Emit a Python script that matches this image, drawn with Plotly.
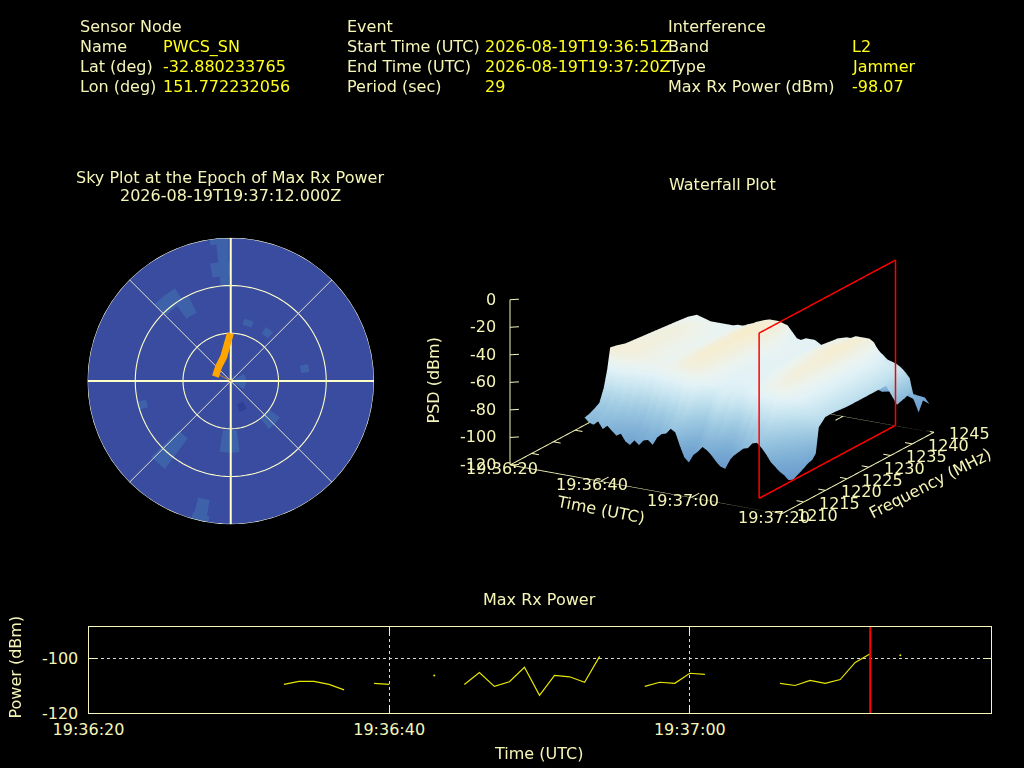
import pandas as pd
import plotly.graph_objects as go

PALE = '#f5f5b8'
YELLOW = '#ffff1a'
FONT = 'DejaVu Sans'

# Header text
header_labels = [
    (80, 27, 'Sensor Node'), (80, 47, 'Name'), (80, 67, 'Lat (deg)'), (80, 87, 'Lon (deg)'),
    (347, 27, 'Event'), (347, 47, 'Start Time (UTC)'), (347, 67, 'End Time (UTC)'), (347, 87, 'Period (sec)'),
    (668, 27, 'Interference'), (668, 47, 'Band'), (668, 67, 'Type'), (668, 87, 'Max Rx Power (dBm)'),
]
header_values = [
    (163, 47, 'PWCS_SN'), (163, 67, '-32.880233765'), (163, 87, '151.772232056'),
    (485, 47, '2026-08-19T19:36:51Z'), (485, 67, '2026-08-19T19:37:20Z'), (485, 87, '29'),
    (852, 47, 'L2'), (852, 67, 'Jammer'), (852, 87, '-98.07'),
]

# Sky plot patches, zenith angle in deg
patch_theta = [-3.5, -5, -6, -38, -31, 16.6, 37, 80.5, 92, 134, 181, 221.6, 255, 192.8, 192.5]
patch_base = [60, 66, 86, 58, 48, 36, 35.5, 44.5, 3, 30.5, 31, 45, 54.5, 76, 86]
patch_height = [30, 9, 4, 10, 12, 4, 5, 5.2, 6.5, 8, 14, 24, 6, 14, 4]
patch_width = [5, 10, 5, 14, 9, 9, 8, 6, 60, 15, 16, 9.5, 5, 5.5, 7]
dark_theta = [157]
dark_base = [15]
dark_height = [5]
dark_width = [15]
track_theta = [-0.4, -5.8, -16, -40, -74]
track_zen = [30, 22.8, 15.9, 11.8, 10]
link_theta = [-61, -61]
link_zen = [8.6, 0]

# Waterfall, seconds after 19:36:20
wf_time = list(range(13, 60))
wf_freq = [1213.6, 1214.8, 1216, 1217, 1218, 1218.8, 1219.5, 1221, 1223, 1226,
           1229, 1232, 1235, 1237.5, 1239.5, 1240.5, 1241.5, 1242.5, 1243.5, 1245]
wf_psd = [
    [-84, -87, -88, -85, -90, -87, -90, -93, -91, -96, -98, -94, -97, -93, -92, -95, -89, -86, -85, -81, -83, -92, -100, -103, -97, -94, -90, -92, -95, -99, -102, -103, -96, -92, -89, -86, -85, -81, -80, -83, -87, -92, -95, -98, -100, -103, -102],
    [-83, -85, -84, -83, -86, -85, -88, -89, -90, -92, -94, -91, -92, -90, -87, -91, -85, -84, -80, -79, -80, -87, -95, -97, -93, -89, -87, -89, -90, -94, -97, -98, -92, -89, -85, -84, -81, -79, -78, -80, -84, -88, -91, -95, -97, -100, -100],
    [-81, -80, -82, -78, -81, -79, -84, -82, -86, -84, -89, -83, -86, -81, -84, -83, -78, -80, -73, -75, -72, -82, -86, -90, -84, -82, -78, -84, -81, -88, -90, -87, -83, -84, -76, -80, -74, -75, -72, -76, -78, -84, -86, -90, -93, -95, -98],
    [-79, -74, -77, -71, -76, -72, -79, -74, -82, -77, -84, -75, -80, -72, -78, -74, -70, -74, -64, -69, -65, -76, -79, -85, -77, -74, -70, -78, -73, -83, -84, -79, -75, -78, -68, -73, -66, -70, -64, -71, -72, -79, -81, -86, -89, -92, -96],
    [-70, -63, -68, -61, -66, -62, -70, -64, -73, -67, -75, -64, -70, -61, -68, -63, -60, -64, -55, -60, -57, -68, -71, -77, -68, -65, -62, -70, -65, -75, -76, -70, -65, -69, -60, -64, -58, -62, -56, -63, -65, -72, -75, -80, -84, -90, -95],
    [-58, -54, -57, -52, -55, -54, -60, -56, -62, -58, -64, -57, -60, -54, -57, -53, -52, -54, -49, -52, -51, -59, -62, -67, -62, -60, -58, -63, -60, -66, -66, -62, -58, -60, -54, -55, -52, -54, -50, -53, -57, -63, -67, -72, -78, -85, -92],
    [-43, -44, -46, -46, -48, -47, -49, -50, -52, -53, -54, -53, -52, -51, -49, -48, -47, -46, -45, -46, -48, -52, -55, -57, -59, -60, -59, -61, -60, -60, -59, -57, -55, -54, -53, -52, -50, -49, -49, -50, -53, -56, -60, -63, -66, -69, -74],
    [-44, -45, -45, -44, -46, -46, -48, -48, -50, -51, -52, -52, -50, -50, -48, -46, -46, -44, -44, -44, -47, -50, -54, -55, -57, -58, -57, -58, -58, -58, -57, -56, -53, -53, -52, -50, -49, -47, -47, -48, -51, -55, -58, -61, -64, -67, -69],
    [-46, -45, -46, -45, -46, -47, -48, -49, -50, -50, -52, -51, -50, -49, -47, -45, -44, -44, -43, -44, -46, -49, -53, -54, -56, -57, -56, -57, -56, -57, -55, -55, -52, -51, -50, -49, -47, -46, -45, -47, -50, -54, -58, -60, -64, -67, -69],
    [-47, -47, -46, -47, -46, -47, -48, -50, -50, -51, -51, -50, -49, -48, -47, -45, -44, -43, -43, -43, -46, -48, -52, -53, -55, -55, -55, -55, -56, -55, -54, -53, -51, -50, -49, -48, -46, -45, -45, -45, -49, -53, -57, -59, -63, -66, -70],
    [-48, -47, -47, -46, -47, -47, -49, -49, -51, -51, -51, -51, -50, -48, -47, -45, -44, -43, -42, -43, -45, -48, -51, -53, -54, -55, -55, -55, -55, -54, -53, -52, -50, -49, -48, -47, -45, -44, -44, -44, -48, -52, -57, -59, -63, -66, -70],
    [-49, -48, -48, -47, -47, -48, -49, -50, -51, -52, -52, -51, -50, -48, -47, -45, -43, -42, -41, -42, -43, -47, -50, -52, -53, -54, -54, -55, -55, -54, -52, -51, -49, -48, -47, -45, -44, -43, -42, -44, -48, -52, -56, -59, -62, -66, -70],
    [-50, -50, -50, -49, -49, -50, -51, -51, -52, -53, -52, -51, -50, -48, -47, -45, -44, -42, -42, -43, -44, -47, -50, -52, -54, -54, -54, -55, -56, -54, -52, -51, -49, -48, -47, -46, -45, -44, -43, -44, -49, -52, -56, -59, -62, -66, -70],
    [-51, -52, -52, -52, -52, -52, -53, -53, -54, -54, -54, -52, -51, -49, -48, -46, -45, -44, -44, -45, -46, -50, -54, -55, -55, -55, -55, -56, -58, -55, -53, -52, -50, -49, -48, -47, -46, -45, -44, -46, -50, -54, -58, -60, -63, -67, -88],
    [-53, -54, -55, -56, -56, -56, -56, -56, -56, -55, -55, -54, -53, -51, -50, -48, -47, -47, -47, -48, -49, -53, -57, -58, -56, -56, -56, -58, -60, -56, -54, -52, -51, -50, -50, -48, -48, -48, -48, -50, -56, -60, -62, -64, -65, -66, -86],
    [-60, -62, -64, -65, -66, -66, -65, -64, -64, -63, -62, -62, -60, -58, -58, -56, -56, -56, -56, -58, -59, -62, -64, -64, -64, -64, -63, -66, -66, -64, -63, -61, -60, -60, -58, -58, -58, -58, -57, -58, -60, -63, -64, -65, -67, -70, -84],
    [-70, -72, -74, -74, -76, -75, -74, -74, -73, -73, -72, -71, -70, -70, -70, -68, -68, -66, -68, -68, -70, -72, -74, -74, -74, -73, -72, -74, -74, -73, -72, -71, -70, -70, -70, -68, -68, -68, -68, -68, -70, -71, -72, -73, -74, -76, -92],
    [-85, -87, -88, -89, -90, -89, -90, -88, -88, -89, -90, -88, -88, -87, -89, -87, -86, -86, -88, -87, -88, -89, -90, -90, -90, -89, -88, -89, -90, -89, -88, -89, -90, -88, -88, -89, -89, -88, -87, -88, -90, -90, -91, -91, -92, -93, -102],
    [-91, -92, -93, -92, -93, -94, -93, -92, -94, -93, -92, -93, -94, -92, -93, -92, -93, -94, -92, -91, -92, -94, -93, -94, -93, -92, -94, -93, -92, -93, -94, -93, -92, -93, -94, -92, -93, -94, -93, -92, -93, -94, -93, -92, -93, -92, -95],
    [-94, -95, -96, -95, -95, -96, -96, -97, -95, -96, -95, -94, -96, -95, -95, -96, -96, -94, -94, -95, -96, -95, -97, -96, -96, -95, -95, -96, -96, -97, -97, -95, -95, -96, -96, -95, -95, -96, -96, -96, -96, -96, -95, -95, -96, -96, -100],
]
epoch_sec = 51.5
plane_freq = [1213.6, 1245]
time_ticks = [0, 20, 40, 60]
time_tick_text = ['19:36:20', '19:36:40', '19:37:00', '19:37:20']
freq_ticks = [1210, 1215, 1220, 1225, 1230, 1235, 1240, 1245]
psd_ticks = [0, -20, -40, -60, -80, -100, -120]

# Max Rx Power, one sample per second with gaps
power_sec = [13, 14, 15, 16, 17, 18, 19, 20, 21, 25, 26, 27, 28, 29, 30, 31, 32, 33, 34, 35,
             37, 38, 39, 40, 41, 42, 46, 47, 48, 49, 50, 51, 52]
power_dbm = [-109.5, -108.4, -108.4, -109.5, -111.5, None, -109.1, -109.5, None,
             -109.5, -105.1, -110.2, -108.5, -103.2, -113.5, -106.2, -106.7, -108.7, -99.2, None,
             -110.2, -108.7, -109.1, -105.4, -105.8, None,
             -109.1, -109.9, -108.0, -109.1, -107.7, -101.4, -98.2]
single_sec = [23, 54]
single_dbm = [-106.2, -98.8]
max_power_sec = 52

START = pd.Timestamp('2026-08-19 19:36:20')


def stamps(seconds):
    return [START + pd.Timedelta(seconds=s) for s in seconds]


def px_x(x):
    return x / 1024


def px_y(y):
    return 1 - y / 768


def text_at(x, y, text, color=PALE, anchor='left', angle=0):
    # annotations carry a small padding, so left aligned text is pulled back
    nudge = -2 if anchor == 'left' else 0
    return dict(x=px_x(x + nudge), y=px_y(y - 0.5), xref='paper', yref='paper', text=text, showarrow=False,
                xanchor=anchor, yanchor='middle', textangle=angle,
                font=dict(family=FONT, size=16, color=color))


fig = go.Figure()

# Sky plot
fig.add_trace(go.Barpolar(theta=patch_theta, r=patch_height, base=patch_base, width=patch_width,
                          marker=dict(color='#3e62a9', line=dict(width=0)), subplot='polar'))
fig.add_trace(go.Barpolar(theta=dark_theta, r=dark_height, base=dark_base, width=dark_width,
                          marker=dict(color='#2f3f98', line=dict(width=0)), subplot='polar'))
# grid drawn again as traces, it has to sit over the patches
ring_theta = list(range(0, 361, 3))
for ring in [30, 60, 90]:
    fig.add_trace(go.Scatterpolar(theta=ring_theta, r=[ring] * len(ring_theta), mode='lines',
                                  line=dict(color='#ffffc8', width=1.1), subplot='polar'))
for spoke in [0, 90, 180, 270]:
    fig.add_trace(go.Scatterpolar(theta=[spoke, spoke], r=[0, 90], mode='lines',
                                  line=dict(color='#ffffc8', width=2), subplot='polar'))
for spoke in [45, 135, 225, 315]:
    fig.add_trace(go.Scatterpolar(theta=[spoke, spoke], r=[0, 90], mode='lines',
                                  line=dict(color='#e0e0cc', width=1), subplot='polar'))
fig.add_trace(go.Scatterpolar(theta=link_theta, r=link_zen, mode='lines',
                              line=dict(color='#c08030', width=1), subplot='polar'))
fig.add_trace(go.Scatterpolar(theta=track_theta, r=track_zen, mode='lines',
                              line=dict(color='#ffa500', width=7), subplot='polar'))

# Waterfall
scale = [[0, '#6596cb'], [0.23, '#80b1d6'], [0.415, '#9fcae2'], [0.6, '#c4e3ef'],
         [0.754, '#e2f2f7'], [0.846, '#ecf3ee'], [0.95, '#f3eed8'], [1, '#f7edcc']]
fig.add_trace(go.Surface(x=wf_time, y=wf_freq, z=wf_psd, colorscale=scale, cmin=-105, cmax=-41,
                         showscale=False, hoverinfo='skip', scene='scene',
                         lighting=dict(ambient=1, diffuse=0, specular=0, roughness=1, fresnel=0)))

t0, t1 = time_ticks[0], time_ticks[-1]
f0, f1 = freq_ticks[0], freq_ticks[-1]
z0, z1 = psd_ticks[-1], psd_ticks[0]

# Base frame and ticks
edge_x = [t0, t1, t1, t0, t0]
edge_y = [f0, f0, f1, f1, f0]
edge_z = [z0] * 5
for t in time_ticks:
    edge_x += [None, t, t, None, t, t]
    edge_y += [None, f0, f0 + 1.8, None, f1, f1 - 1.8]
    edge_z += [None, z0, z0, None, z0, z0]
for f in freq_ticks:
    edge_x += [None, t1, t1 - 1.6, None, t0, t0 + 1.6]
    edge_y += [None, f, f, None, f, f]
    edge_z += [None, z0, z0, None, z0, z0]
fig.add_trace(go.Scatter3d(x=edge_x, y=edge_y, z=edge_z, mode='lines', hoverinfo='skip',
                           line=dict(color=PALE, width=2), scene='scene'))
axis_x, axis_y, axis_z = [t0, t0], [f0, f0], [z0, z1]
for z in psd_ticks:
    axis_x += [None, t0, t0 + 1.3]
    axis_y += [None, f0, f0 + 0.7]
    axis_z += [None, z, z]
fig.add_trace(go.Scatter3d(x=axis_x, y=axis_y, z=axis_z, mode='lines', hoverinfo='skip',
                           line=dict(color=PALE, width=2), scene='scene'))

# Red plane goes in a second scene so it stays on top of the surface
fig.add_trace(go.Scatter3d(
    x=[epoch_sec] * 5,
    y=[plane_freq[0], plane_freq[1], plane_freq[1], plane_freq[0], plane_freq[0]],
    z=[z0, z0, z1, z1, z0],
    mode='lines', hoverinfo='skip', line=dict(color='#ff0000', width=3), scene='scene2'))

# Max Rx Power
fig.add_trace(go.Scatter(x=stamps(power_sec), y=power_dbm, mode='lines', hoverinfo='skip',
                         line=dict(color='#e6e600', width=1.2), connectgaps=False))
fig.add_trace(go.Scatter(x=stamps(single_sec), y=single_dbm, mode='markers', hoverinfo='skip',
                         marker=dict(color='#e6e600', size=2)))
fig.add_trace(go.Scatter(x=stamps([max_power_sec, max_power_sec]), y=[-120, -88.4], mode='lines',
                         hoverinfo='skip', line=dict(color='#ff0000', width=2)))

# Labels tied to the 3D axes
scene_notes = []
for t, label in zip(time_ticks, time_tick_text):
    scene_notes.append(dict(x=t, y=f0, z=z0, text=label, showarrow=False, xshift=-8, yshift=-4,
                            font=dict(family=FONT, size=16, color=PALE)))
for f in freq_ticks:
    scene_notes.append(dict(x=t1, y=f, z=z0, text=str(f), showarrow=False, xshift=36, yshift=-2,
                            font=dict(family=FONT, size=16, color=PALE)))
for z in psd_ticks:
    scene_notes.append(dict(x=t0, y=f0, z=z, text=str(z), showarrow=False, xanchor='right', xshift=-12,
                            font=dict(family=FONT, size=16, color=PALE)))

hidden = dict(visible=False)
eye_len = 3
scene_box = dict(
    domain=dict(x=[px_x(421.7), px_x(1021.7)], y=[px_y(565.5), px_y(165.5)]),
    bgcolor='rgba(0,0,0,0)',
    xaxis=dict(range=[t0, t1], **hidden),
    yaxis=dict(range=[f0, f1], **hidden),
    zaxis=dict(range=[z0, z1], **hidden),
    aspectmode='manual',
    aspectratio=dict(x=1.571, y=1.519, z=0.869),
    camera=dict(eye=dict(x=0.4755 * eye_len, y=-0.8236 * eye_len, z=0.309 * eye_len), up=dict(x=0, y=0, z=1),
                center=dict(x=0, y=0, z=0), projection=dict(type='orthographic')),
)

annotations = [text_at(x, y, t) for x, y, t in header_labels]
annotations += [text_at(x, y, t, color=YELLOW) for x, y, t in header_values]
annotations += [
    text_at(230, 178, 'Sky Plot at the Epoch of Max Rx Power', anchor='center'),
    text_at(230, 196, '2026-08-19T19:37:12.000Z', anchor='center'),
    text_at(722, 185, 'Waterfall Plot', anchor='center'),
    text_at(539, 600, 'Max Rx Power', anchor='center'),
    text_at(538, 754, 'Time (UTC)', anchor='center'),
    text_at(15, 668, 'Power (dBm)', anchor='center', angle=-90),
    text_at(433, 381, 'PSD (dBm)', anchor='center', angle=-90),
    text_at(600, 510, 'Time (UTC)', anchor='center', angle=11),
    text_at(930, 484, 'Frequency (MHz)', anchor='center', angle=-27),
]

fig.update_layout(
    width=1024, height=768, margin=dict(l=0, r=0, t=0, b=0, autoexpand=False),
    paper_bgcolor='black', plot_bgcolor='black', showlegend=False,
    font=dict(family=FONT, size=16, color=PALE),
    annotations=annotations,
    polar=dict(
        domain=dict(x=[px_x(87.5), px_x(374)], y=[px_y(524.5), px_y(237.5)]),
        bgcolor='#3a4ca0',
        radialaxis=dict(range=[0, 90], tickvals=[30, 60, 90], showticklabels=False, ticks='',
                        showline=False, showgrid=False),
        angularaxis=dict(direction='clockwise', rotation=90, tickvals=[0, 45, 90, 135, 180, 225, 270, 315],
                         showticklabels=False, ticks='', showgrid=False, showline=False),
    ),
    scene=dict(**scene_box, annotations=scene_notes),
    scene2=scene_box,
    xaxis=dict(domain=[px_x(88.5), px_x(990.5)], anchor='y', type='date',
               range=[START, START + pd.Timedelta(seconds=60)],
               tickvals=stamps(time_ticks), ticktext=time_tick_text, ticklabelstandoff=2,
               ticks='inside', ticklen=8, tickcolor=PALE, showline=True, linecolor=PALE, linewidth=1, mirror='allticks',
               showgrid=True, gridcolor='#d8d8d8', griddash='dot', gridwidth=1, zeroline=False),
    yaxis=dict(domain=[px_y(713), px_y(627)], anchor='x', range=[-120, -88.4],
               tickvals=[-120, -100], ticktext=['-120', '-100'], ticklabelstandoff=6, ticks='inside', ticklen=8, tickcolor=PALE,
               showline=True, linecolor=PALE, linewidth=1, mirror='allticks',
               showgrid=True, gridcolor='#d8d8d8', griddash='dot', gridwidth=1, zeroline=False),
)

fig.write_html("out.html", config={'displayModeBar': False},
               post_script="document.body.style.margin='0';document.body.style.background='black';")
